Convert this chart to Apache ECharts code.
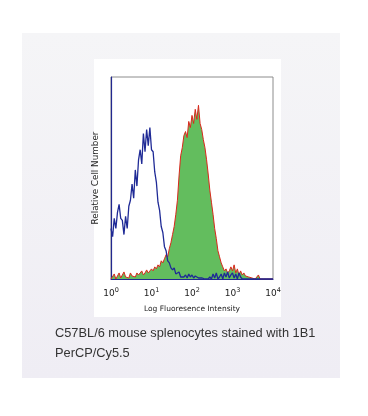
<!DOCTYPE html>
<html><head><meta charset="utf-8">
<script src="https://cdn.jsdelivr.net/npm/echarts@6/dist/echarts.min.js"></script>
<style>html,body{margin:0;padding:0;background:#fff}#c{width:368px;height:416px}</style>
</head><body><div id="c"></div>
<script>
// bin positions (log10 fluorescence)
const binLog = [0,0.04,0.08,0.12,0.16,0.2,0.24,0.28,0.32,0.36,0.4,0.44,0.48,0.52,0.56,0.6,0.64,0.68,0.72,0.76,0.8,0.84,0.88,0.92,0.96,
1,1.04,1.08,1.12,1.16,1.2,1.24,1.28,1.32,1.36,1.4,1.44,1.48,1.52,1.56,1.6,1.64,1.68,1.72,1.76,1.8,1.84,1.88,1.92,1.96,
2,2.04,2.08,2.12,2.16,2.2,2.24,2.28,2.32,2.36,2.4,2.44,2.48,2.52,2.56,2.6,2.64,2.68,2.72,2.76,2.8,2.84,2.88,2.92,2.96,
3,3.04,3.08,3.12,3.16,3.2,3.24,3.28,3.32,3.36,3.4,3.44,3.48,3.52,3.56,3.6,3.64,3.68,3.72,3.76,3.8,3.84,3.88,3.92,3.96,4];
// unstained control (blue)
const controlCounts = [25,21,30,25,33,37,30,29,22,31,25,36,39,47,40,54,46,59,64,57,72,63,74,66,75,
64,63,53,48,38,34,26,23,16,14,9,8,5.5,4.5,5.5,2.5,2,3.5,1,1.5,1,2,0.5,2.5,1,
2,0.5,1.5,2,0.5,1,0.5,0,0,0,0,1,0,2.5,0.5,3,0,1,2.5,0,3,1,3.5,0.5,2,
3,0.5,2.5,0,3,1,0,0,0,0,0,0,0,0,0,0,0,0,0,0,0,0,0,0,0,0];
// 1B1 PerCP/Cy5.5 stained (red outline, green fill)
const stainedCounts = [0,0.5,2.5,0,0.5,3,0.5,1,3.5,1,1.5,0.5,3,1.5,2,1,3,2,2.5,4,2,3,4.5,3,3.5,
5,4,6,5,7,6,9,8,10,12,11,15,18,22,26,32,39,51,61,65,71,73,70,78,75,
81,77,84,79,86,77,74,69,65,59,52,44,38,32,25,20,14,11,8,6,4,5,3,4,6,
4,7,3,5,2,4,2,3,1.5,2,1,1.5,0.5,1,0,0,2,0,0,0,0,0,0,0,0,0];
const xTicks = ['0','1','2','3','4'];
const captionLines = ['C57BL/6 mouse splenocytes stained with 1B1','PerCP/Cy5.5'];

const chart = echarts.init(document.getElementById('c'), null, {renderer:'canvas'});
chart.setOption({
  animation:false,
  backgroundColor:'#ffffff',
  graphic:[
    {type:'rect', z:-20, shape:{x:22,y:33,width:318,height:345},
     style:{fill:new echarts.graphic.LinearGradient(0,0,0,1,[{offset:0,color:'#f5f5f7'},{offset:1,color:'#efedf4'}])}},
    {type:'rect', z:-10, shape:{x:94,y:59,width:187,height:258}, style:{fill:'#ffffff'}},
    {type:'text', left:55, top:327, style:{text:captionLines[0], font:'12.8px "Liberation Sans", Arial, sans-serif', fill:'#333333'}},
    {type:'text', left:55, top:347, style:{text:captionLines[1], font:'12.8px "Liberation Sans", Arial, sans-serif', fill:'#333333'}}
  ],
  grid:{left:111, right:95, top:77, bottom:137, show:true, borderColor:'#8c8c8c', borderWidth:1, backgroundColor:'transparent'},
  xAxis:{type:'value', min:0, max:4, interval:1,
    axisLine:{show:true, onZero:false, lineStyle:{color:'#22288f', width:1.2}},
    axisTick:{show:false}, splitLine:{show:false},
    axisLabel:{margin:8, formatter:function(v){return '{b|10}{s|'+xTicks[Math.round(v)]+'}';},
      rich:{b:{fontSize:9, color:'#222', fontFamily:'DejaVu Sans'}, s:{fontSize:6.5, color:'#222', fontFamily:'DejaVu Sans', padding:[0,0,6,0]}}},
    name:'Log Fluoresence Intensity', nameLocation:'middle', nameGap:26,
    nameTextStyle:{fontSize:7.5, color:'#222', fontFamily:'DejaVu Sans'}
  },
  yAxis:{type:'value', min:0, max:100,
    axisLine:{show:true, lineStyle:{color:'#22288f', width:1.2}},
    axisTick:{show:false}, axisLabel:{show:false}, splitLine:{show:false},
    name:'Relative Cell Number', nameLocation:'middle', nameGap:11, nameRotate:90,
    nameTextStyle:{fontSize:8.8, color:'#222', fontFamily:'DejaVu Sans'}
  },
  series:[
    {type:'line', data:binLog.map((x,i)=>[x,stainedCounts[i]]), showSymbol:false, symbol:'none',
     lineStyle:{color:'#d9281c', width:1}, areaStyle:{color:'#63bd5e', opacity:1}, z:2},
    {type:'line', data:binLog.map((x,i)=>[x,controlCounts[i]]), showSymbol:false, symbol:'none',
     lineStyle:{color:'#1f2a96', width:1.3}, z:3}
  ]
});
</script></body></html>
